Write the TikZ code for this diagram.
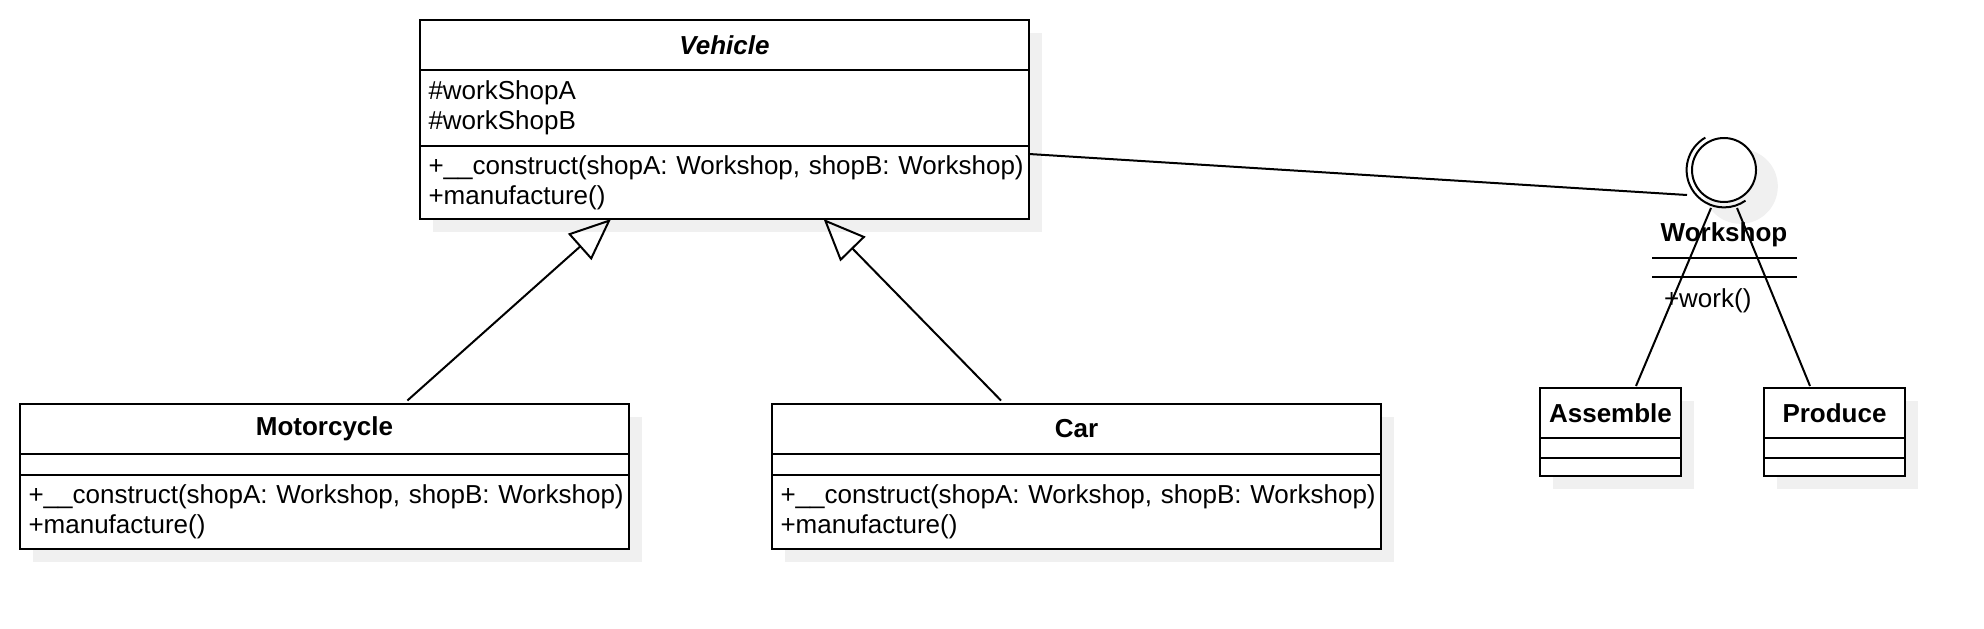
\documentclass[tikz,border=0pt]{standalone}
\usepackage{fontspec}
\setmainfont{Liberation Sans}
\usetikzlibrary{arrows,arrows.meta,calc,positioning,shadows,shapes}

\newcommand{\opslist}{\mbox{+\_\_construct(shopA: Workshop, shopB: Workshop)}\\\mbox{+manufacture()}}

\begin{document}
\begin{tikzpicture}[x=1pt,y=1pt,line width=1pt,>={Triangle[open,length=21pt,width=17.5pt]}]
	\tikzstyle{boxshadow} = [drop shadow={shadow xshift=6.5pt, shadow yshift=-6.5pt, fill=black!6, opacity=1}]
	\tikzstyle{classhead} = [draw, fill=white, rectangle, minimum width=304.5pt, minimum height=25pt, inner sep=0pt, outer sep=0pt, font=\fontsize{13}{15}\selectfont\bfseries, boxshadow]
	\tikzstyle{classpart} = [draw, fill=white, rectangle, text width=296pt, inner xsep=4.25pt, inner ysep=0pt, outer sep=0pt, align=left, font=\fontsize{13}{15}\selectfont, boxshadow]
	\tikzstyle{smallhead} = [classhead, minimum width=70.5pt]
	\tikzstyle{smallpart} = [draw, fill=white, rectangle, minimum width=70.5pt, inner sep=0pt, outer sep=0pt, boxshadow]
	
	\useasboundingbox (0,0) rectangle (992,314);
	
	\node [classhead, font=\fontsize{13}{15}\selectfont\bfseries\itshape] (vehicle) at (362.25,291.5) {Vehicle};
	\node [classpart, minimum height=38pt, below=0pt of vehicle] (vehicleattr) {\#workShopA\\\#workShopB};
	\node [classpart, minimum height=36.5pt, below=0pt of vehicleattr] (vehicleops) {\opslist};
	
	\node [classhead] (motorcycle) at (162.25,99.75) {Motorcycle};
	\node [classpart, minimum height=10.5pt, below=0pt of motorcycle] (motorcycleattr) {};
	\node [classpart, minimum height=37pt, below=0pt of motorcycleattr] (motorcycleops) {\opslist};
	
	\node [classhead, right=71.5pt of motorcycle] (car) {Car};
	\node [classpart, minimum height=10.5pt, below=0pt of car] (carattr) {};
	\node [classpart, minimum height=37pt, below=0pt of carattr] (carops) {\opslist};
	
	\node [smallhead] (assemble) at (805.25,107.5) {Assemble};
	\node [smallpart, minimum height=10pt, below=0pt of assemble] (assembleattr) {};
	\node [smallpart, minimum height=9pt, below=0pt of assembleattr] (assembleops) {};
	
	\node [smallhead, right=41.5pt of assemble] (produce) {Produce};
	\node [smallpart, minimum height=10pt, below=0pt of produce] (produceattr) {};
	\node [smallpart, minimum height=9pt, below=0pt of produceattr] (produceops) {};
	
	% interface
	\node [circle, draw, fill=white, minimum size=32pt, inner sep=0pt, drop shadow={shadow scale=1.17, shadow xshift=7pt, shadow yshift=-7pt, fill=black!6, opacity=1}] (workshop) at (862,229) {};
	\draw ($(workshop.center)+(120:18.7)$) arc [start angle=120, end angle=305, radius=18.7];
	
	\node [font=\fontsize{13}{15}\selectfont\bfseries] (workshoplabel) at (862,196.5) {Workshop};
	\draw (826,185) -- (898.5,185);
	\draw (826,175.5) -- (898.5,175.5);
	\node [anchor=west, inner sep=0pt, font=\fontsize{13}{15}\selectfont] (workshopops) at (831.5,163.5) {+work()};
	
	\draw [->] ($(motorcycle.north)+(41.45,1.5)$) -- ($(vehicleops.south)+(-56.75,0)$);
	
	\draw [->] ($(car.north)+(-37.75,1.5)$) -- ($(vehicleops.south)+(49.55,0)$);
	
	\draw ($(vehicleops.east)+(0,14.25)$) -- ($(workshop.center)+(-18.5,-12.5)$);
	
	\draw ($(workshop.center)+(-6.5,-19)$) -- ($(assemble.north)+(12.75,1)$);
	
	\draw ($(workshop.center)+(6.5,-19)$) -- ($(produce.north)+(-12.25,1)$);
	
\end{tikzpicture}
\end{document}
